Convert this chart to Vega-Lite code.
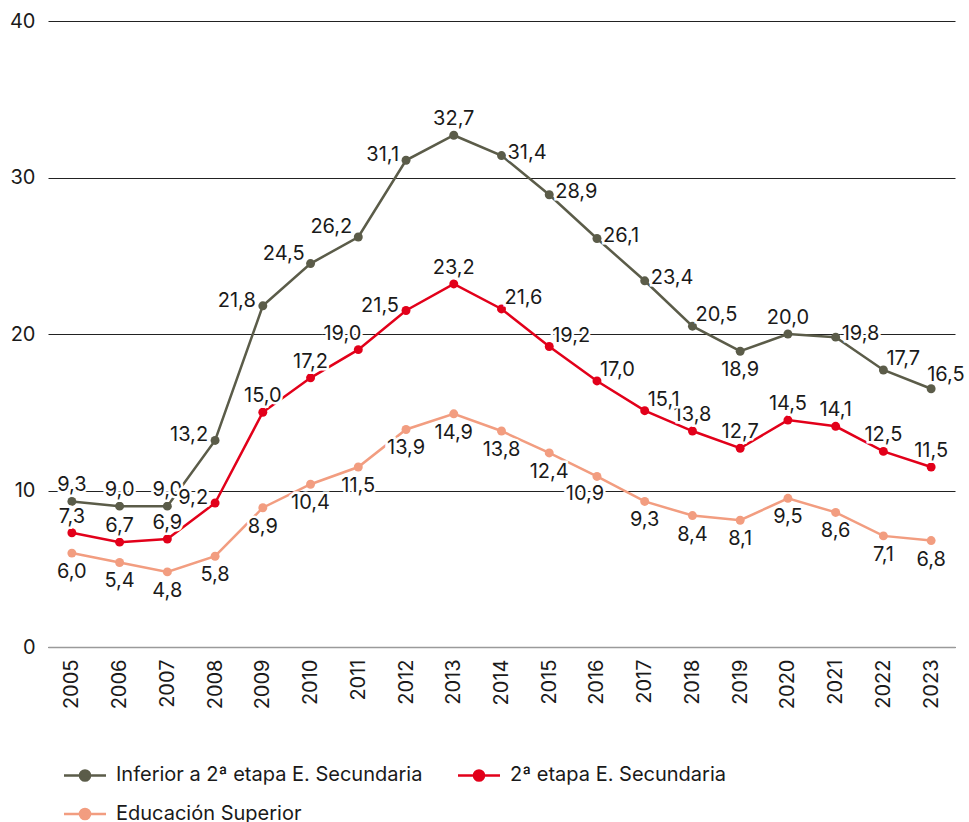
{
  "$schema": "https://vega.github.io/schema/vega-lite/v6.json",
  "autosize": "none",
  "width": 907,
  "height": 626,
  "padding": {"left": 48, "top": 21, "right": 14, "bottom": 175},
  "background": "white",
  "config": {
    "font": "Inter",
    "view": {"stroke": null},
    "locale": {"number": {"decimal": ",", "thousands": ".", "grouping": [3], "currency": ["", " €"]}},
    "axis": {"labelFont": "Inter", "labelColor": "#1a1a1a", "ticks": false, "title": null, "zindex": 0}
  },
  "data": {
    "values": [
      {"year": 2005, "serie": "Inferior a 2ª etapa E. Secundaria", "valor": 9.3},
      {"year": 2006, "serie": "Inferior a 2ª etapa E. Secundaria", "valor": 9.0},
      {"year": 2007, "serie": "Inferior a 2ª etapa E. Secundaria", "valor": 9.0},
      {"year": 2008, "serie": "Inferior a 2ª etapa E. Secundaria", "valor": 13.2},
      {"year": 2009, "serie": "Inferior a 2ª etapa E. Secundaria", "valor": 21.8},
      {"year": 2010, "serie": "Inferior a 2ª etapa E. Secundaria", "valor": 24.5},
      {"year": 2011, "serie": "Inferior a 2ª etapa E. Secundaria", "valor": 26.2},
      {"year": 2012, "serie": "Inferior a 2ª etapa E. Secundaria", "valor": 31.1},
      {"year": 2013, "serie": "Inferior a 2ª etapa E. Secundaria", "valor": 32.7},
      {"year": 2014, "serie": "Inferior a 2ª etapa E. Secundaria", "valor": 31.4},
      {"year": 2015, "serie": "Inferior a 2ª etapa E. Secundaria", "valor": 28.9},
      {"year": 2016, "serie": "Inferior a 2ª etapa E. Secundaria", "valor": 26.1},
      {"year": 2017, "serie": "Inferior a 2ª etapa E. Secundaria", "valor": 23.4},
      {"year": 2018, "serie": "Inferior a 2ª etapa E. Secundaria", "valor": 20.5},
      {"year": 2019, "serie": "Inferior a 2ª etapa E. Secundaria", "valor": 18.9},
      {"year": 2020, "serie": "Inferior a 2ª etapa E. Secundaria", "valor": 20.0},
      {"year": 2021, "serie": "Inferior a 2ª etapa E. Secundaria", "valor": 19.8},
      {"year": 2022, "serie": "Inferior a 2ª etapa E. Secundaria", "valor": 17.7},
      {"year": 2023, "serie": "Inferior a 2ª etapa E. Secundaria", "valor": 16.5},
      {"year": 2005, "serie": "2ª etapa E. Secundaria", "valor": 7.3},
      {"year": 2006, "serie": "2ª etapa E. Secundaria", "valor": 6.7},
      {"year": 2007, "serie": "2ª etapa E. Secundaria", "valor": 6.9},
      {"year": 2008, "serie": "2ª etapa E. Secundaria", "valor": 9.2},
      {"year": 2009, "serie": "2ª etapa E. Secundaria", "valor": 15.0},
      {"year": 2010, "serie": "2ª etapa E. Secundaria", "valor": 17.2},
      {"year": 2011, "serie": "2ª etapa E. Secundaria", "valor": 19.0},
      {"year": 2012, "serie": "2ª etapa E. Secundaria", "valor": 21.5},
      {"year": 2013, "serie": "2ª etapa E. Secundaria", "valor": 23.2},
      {"year": 2014, "serie": "2ª etapa E. Secundaria", "valor": 21.6},
      {"year": 2015, "serie": "2ª etapa E. Secundaria", "valor": 19.2},
      {"year": 2016, "serie": "2ª etapa E. Secundaria", "valor": 17.0},
      {"year": 2017, "serie": "2ª etapa E. Secundaria", "valor": 15.1},
      {"year": 2018, "serie": "2ª etapa E. Secundaria", "valor": 13.8},
      {"year": 2019, "serie": "2ª etapa E. Secundaria", "valor": 12.7},
      {"year": 2020, "serie": "2ª etapa E. Secundaria", "valor": 14.5},
      {"year": 2021, "serie": "2ª etapa E. Secundaria", "valor": 14.1},
      {"year": 2022, "serie": "2ª etapa E. Secundaria", "valor": 12.5},
      {"year": 2023, "serie": "2ª etapa E. Secundaria", "valor": 11.5},
      {"year": 2005, "serie": "Educación Superior", "valor": 6.0},
      {"year": 2006, "serie": "Educación Superior", "valor": 5.4},
      {"year": 2007, "serie": "Educación Superior", "valor": 4.8},
      {"year": 2008, "serie": "Educación Superior", "valor": 5.8},
      {"year": 2009, "serie": "Educación Superior", "valor": 8.9},
      {"year": 2010, "serie": "Educación Superior", "valor": 10.4},
      {"year": 2011, "serie": "Educación Superior", "valor": 11.5},
      {"year": 2012, "serie": "Educación Superior", "valor": 13.9},
      {"year": 2013, "serie": "Educación Superior", "valor": 14.9},
      {"year": 2014, "serie": "Educación Superior", "valor": 13.8},
      {"year": 2015, "serie": "Educación Superior", "valor": 12.4},
      {"year": 2016, "serie": "Educación Superior", "valor": 10.9},
      {"year": 2017, "serie": "Educación Superior", "valor": 9.3},
      {"year": 2018, "serie": "Educación Superior", "valor": 8.4},
      {"year": 2019, "serie": "Educación Superior", "valor": 8.1},
      {"year": 2020, "serie": "Educación Superior", "valor": 9.5},
      {"year": 2021, "serie": "Educación Superior", "valor": 8.6},
      {"year": 2022, "serie": "Educación Superior", "valor": 7.1},
      {"year": 2023, "serie": "Educación Superior", "valor": 6.8}
    ]
  },
  "encoding": {
    "x": {
      "field": "year", "type": "ordinal",
      "scale": {"type": "point", "padding": 0.5},
      "axis": {"labelAngle": -90, "labelAlign": "right", "labelBaseline": "middle", "labelFontSize": 20, "labelPadding": 12, "domainColor": "#9a9a9a", "domainWidth": 1.5, "grid": false}
    },
    "y": {
      "field": "valor", "type": "quantitative",
      "scale": {"domain": [0, 40], "nice": false},
      "axis": {"values": [0, 10, 20, 30, 40], "labelFontSize": 20, "labelPadding": 13, "domain": false, "gridColor": "#222222", "gridWidth": 1, "grid": true}
    }
  },
  "layer": [
    {
      "mark": {"type": "line", "strokeWidth": 2.5},
      "encoding": {
        "color": {
          "field": "serie", "type": "nominal",
          "scale": {"domain": ["Inferior a 2ª etapa E. Secundaria", "2ª etapa E. Secundaria", "Educación Superior"], "range": ["#5b5c49", "#e2001a", "#f29d80"]},
          "legend": {
            "title": null, "orient": "none", "legendX": 25, "legendY": 742, "columns": 2,
            "direction": "horizontal",
            "columnPadding": 30, "rowPadding": 16,
            "labelFontSize": 20, "labelFont": "Inter", "labelColor": "#1a1a1a", "labelOffset": 19, "labelLimit": 600,
            "symbolType": "M-2,0H2M-0.48,0A0.48,0.48 0 1,1 0.48,0A0.48,0.48 0 1,1 -0.48,0Z",
            "symbolSize": 441, "symbolStrokeWidth": 2.5,
            "encode": {"symbols": {"update": {"fill": {"scale": "color", "field": "value"}, "stroke": {"scale": "color", "field": "value"}}}}
          }
        }
      }
    },
    {
      "mark": {"type": "point", "filled": true, "size": 80, "opacity": 1},
      "encoding": {"color": {"field": "serie", "type": "nominal", "legend": null}}
    },
    {
      "transform": [{"filter": "(datum.serie=='Inferior a 2ª etapa E. Secundaria' && indexof([2005,2006,2007,2013,2020], datum.year)>=0) || (datum.serie=='2ª etapa E. Secundaria' && indexof([2005,2006,2007,2009,2010,2013,2018,2019,2020,2021,2022,2023], datum.year)>=0)"}],
      "encoding": {"text": {"field": "valor", "type": "quantitative", "format": ".1f"}},
      "layer": [
        {"mark": {"type": "text", "fontSize": 20, "align": "center", "baseline": "middle", "dy": -16, "stroke": "white", "strokeWidth": 5, "fill": "white"}},
        {"mark": {"type": "text", "fontSize": 20, "align": "center", "baseline": "middle", "dy": -16, "fill": "#1a1a1a"}}
      ]
    },
    {
      "transform": [{"filter": "(datum.serie=='Inferior a 2ª etapa E. Secundaria' && datum.year==2019) || (datum.serie=='Educación Superior' && datum.year!=2016)"}],
      "encoding": {"text": {"field": "valor", "type": "quantitative", "format": ".1f"}},
      "layer": [
        {"mark": {"type": "text", "fontSize": 20, "align": "center", "baseline": "middle", "dy": 19, "stroke": "white", "strokeWidth": 5, "fill": "white"}},
        {"mark": {"type": "text", "fontSize": 20, "align": "center", "baseline": "middle", "dy": 19, "fill": "#1a1a1a"}}
      ]
    },
    {
      "transform": [{"filter": "(datum.serie=='Inferior a 2ª etapa E. Secundaria' && indexof([2008,2009,2012], datum.year)>=0) || (datum.serie=='2ª etapa E. Secundaria' && indexof([2008,2012], datum.year)>=0)"}],
      "encoding": {"text": {"field": "valor", "type": "quantitative", "format": ".1f"}},
      "layer": [
        {"mark": {"type": "text", "fontSize": 20, "align": "right", "baseline": "middle", "dx": -7, "dy": -5, "stroke": "white", "strokeWidth": 5, "fill": "white"}},
        {"mark": {"type": "text", "fontSize": 20, "align": "right", "baseline": "middle", "dx": -7, "dy": -5, "fill": "#1a1a1a"}}
      ]
    },
    {
      "transform": [{"filter": "datum.serie=='Inferior a 2ª etapa E. Secundaria' && indexof([2014,2015,2016,2017,2021], datum.year)>=0"}],
      "encoding": {"text": {"field": "valor", "type": "quantitative", "format": ".1f"}},
      "layer": [
        {"mark": {"type": "text", "fontSize": 20, "align": "left", "baseline": "middle", "dx": 6, "dy": -3, "stroke": "white", "strokeWidth": 5, "fill": "white"}},
        {"mark": {"type": "text", "fontSize": 20, "align": "left", "baseline": "middle", "dx": 6, "dy": -3, "fill": "#1a1a1a"}}
      ]
    },
    {
      "transform": [{"filter": "datum.serie=='Inferior a 2ª etapa E. Secundaria' && indexof([2010,2011], datum.year)>=0"}],
      "encoding": {"text": {"field": "valor", "type": "quantitative", "format": ".1f"}},
      "layer": [
        {"mark": {"type": "text", "fontSize": 20, "align": "right", "baseline": "middle", "dx": -6, "dy": -10, "stroke": "white", "strokeWidth": 5, "fill": "white"}},
        {"mark": {"type": "text", "fontSize": 20, "align": "right", "baseline": "middle", "dx": -6, "dy": -10, "fill": "#1a1a1a"}}
      ]
    },
    {
      "transform": [{"filter": "datum.serie=='2ª etapa E. Secundaria' && datum.year==2011"}],
      "encoding": {"text": {"field": "valor", "type": "quantitative", "format": ".1f"}},
      "layer": [
        {"mark": {"type": "text", "fontSize": 20, "align": "right", "baseline": "middle", "dx": 3, "dy": -16, "stroke": "white", "strokeWidth": 5, "fill": "white"}},
        {"mark": {"type": "text", "fontSize": 20, "align": "right", "baseline": "middle", "dx": 3, "dy": -16, "fill": "#1a1a1a"}}
      ]
    },
    {
      "transform": [{"filter": "(datum.serie=='Inferior a 2ª etapa E. Secundaria' && indexof([2018,2022], datum.year)>=0) || (datum.serie=='2ª etapa E. Secundaria' && indexof([2014,2015,2016,2017], datum.year)>=0)"}],
      "encoding": {"text": {"field": "valor", "type": "quantitative", "format": ".1f"}},
      "layer": [
        {"mark": {"type": "text", "fontSize": 20, "align": "left", "baseline": "middle", "dx": 3, "dy": -11, "stroke": "white", "strokeWidth": 5, "fill": "white"}},
        {"mark": {"type": "text", "fontSize": 20, "align": "left", "baseline": "middle", "dx": 3, "dy": -11, "fill": "#1a1a1a"}}
      ]
    },
    {
      "transform": [{"filter": "datum.serie=='Inferior a 2ª etapa E. Secundaria' && datum.year==2023"}],
      "encoding": {"text": {"field": "valor", "type": "quantitative", "format": ".1f"}},
      "layer": [
        {"mark": {"type": "text", "fontSize": 20, "align": "left", "baseline": "middle", "dx": -4, "dy": -14, "stroke": "white", "strokeWidth": 5, "fill": "white"}},
        {"mark": {"type": "text", "fontSize": 20, "align": "left", "baseline": "middle", "dx": -4, "dy": -14, "fill": "#1a1a1a"}}
      ]
    },
    {
      "transform": [{"filter": "datum.serie=='Educación Superior' && datum.year==2016"}],
      "encoding": {"text": {"field": "valor", "type": "quantitative", "format": ".1f"}},
      "layer": [
        {"mark": {"type": "text", "fontSize": 20, "align": "center", "baseline": "middle", "dx": -12, "dy": 18, "stroke": "white", "strokeWidth": 5, "fill": "white"}},
        {"mark": {"type": "text", "fontSize": 20, "align": "center", "baseline": "middle", "dx": -12, "dy": 18, "fill": "#1a1a1a"}}
      ]
    }
  ]
}
